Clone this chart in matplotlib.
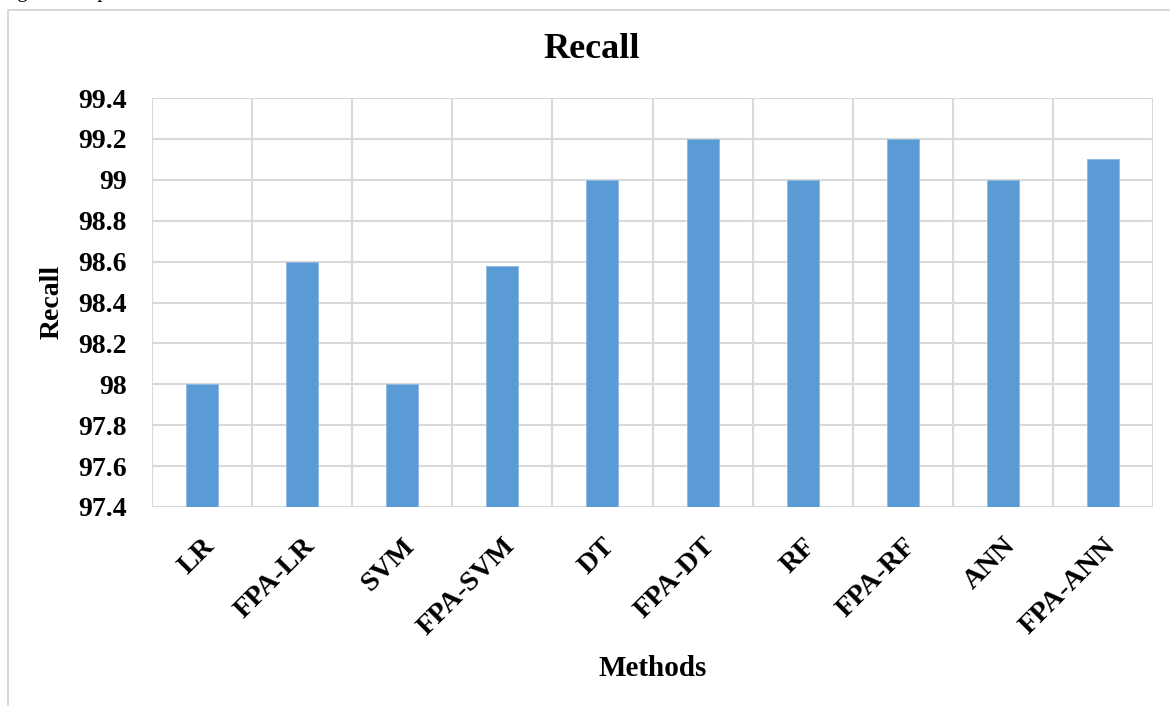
import matplotlib
matplotlib.use("Agg")
import matplotlib.pyplot as plt
from matplotlib.patches import Rectangle

methods = ["LR", "FPA-LR", "SVM", "FPA-SVM", "DT", "FPA-DT", "RF", "FPA-RF", "ANN", "FPA-ANN"]
recall = [98.0, 98.6, 98.0, 98.58, 99.0, 99.2, 99.0, 99.2, 99.0, 99.1]
y_ticks = [97.4, 97.6, 97.8, 98.0, 98.2, 98.4, 98.6, 98.8, 99.0, 99.2, 99.4]
y_tick_labels = ["97.4", "97.6", "97.8", "98", "98.2", "98.4", "98.6", "98.8", "99", "99.2", "99.4"]

plt.rcParams["font.family"] = ["Liberation Serif", "DejaVu Serif"]

W, H = 1170, 706
fig = plt.figure(figsize=(W / 100, H / 100), dpi=100)
ax = fig.add_axes([152 / W, 1 - 507 / H, (1153 - 152) / W, (507 - 98) / H])

# chart-area frame, runs off the right and bottom edges
fig.patches.append(Rectangle((8 / W, -0.05), 1.2, 1 - 10 / H + 0.05,
                             transform=fig.transFigure, fill=False,
                             edgecolor="#d0d0d0", linewidth=1.2))

# caption line sitting above the chart, mostly cropped
fig.text(0.0, 1 + 2.5 / H, "Fig. 3: The precision value of the various methods in DDoS attack detection",
         fontsize=15, va="baseline", ha="left", color="black")

x = list(range(len(methods)))
ax.bar(x, [v - 97.4 for v in recall], bottom=97.4, width=0.32,
       color="#5B9BD5", edgecolor="#8db8e3", linewidth=0.6, zorder=3)

ax.set_xlim(-0.5, len(methods) - 0.5)
ax.set_ylim(97.4, 99.4)
ax.set_yticks(y_ticks)
ax.set_yticklabels(y_tick_labels, fontsize=20, fontweight="bold")
ax.set_xticks(x)
ax.set_xticklabels(methods, fontsize=20.5, fontweight="bold", rotation=45,
                   ha="right", rotation_mode="anchor")
ax.tick_params(axis="both", length=0)
ax.tick_params(axis="y", pad=18)
ax.tick_params(axis="x", pad=19)

# horizontal gridlines plus category separators
ax.grid(True, axis="y", color="#d9d9d9", linewidth=1.5, zorder=0)
for b in range(len(methods) + 1):
    ax.axvline(b - 0.5, color="#d9d9d9", linewidth=1.5, zorder=0)
for s in ax.spines.values():
    s.set_visible(False)

fig.text(52 / W, 1 - 302 / H, "Recall", fontsize=20, fontweight="bold",
         rotation=90, ha="center", va="center")
fig.text(653 / W, 1 - 668 / H, "Methods", fontsize=21, fontweight="bold",
         ha="center", va="center")
fig.text(592 / W, 1 - 49 / H, "Recall", fontsize=26, fontweight="bold",
         ha="center", va="center")

fig.savefig("out.png", dpi=100)
